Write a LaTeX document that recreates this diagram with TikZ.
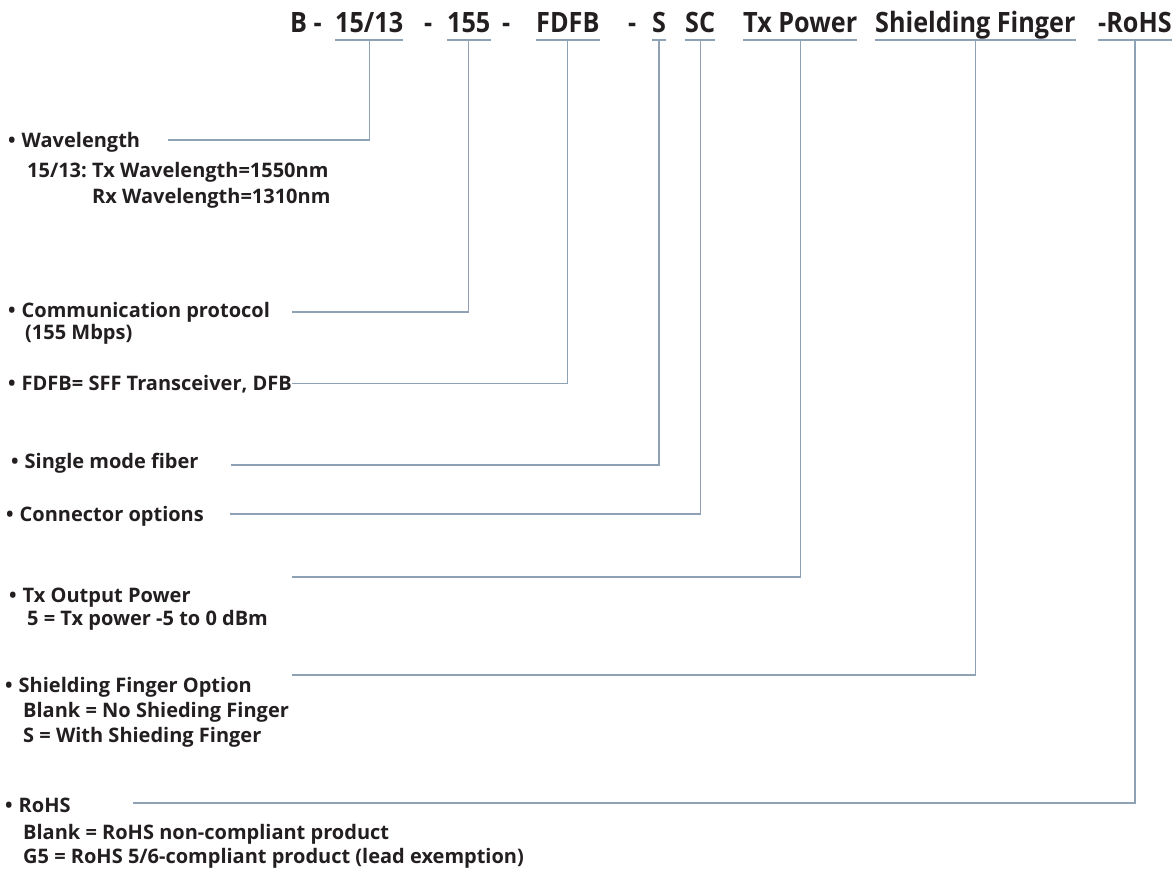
\documentclass[tikz,border=0pt]{standalone}
\usepackage{fontspec}
\setmainfont{Open Sans}
\newfontfamily\codefont{Open Sans}[FakeStretch=0.9]
\newcommand{\bul}{\textbullet\hspace{0.3em}}
\definecolor{leadgray}{HTML}{8FA1B4}
\definecolor{inkdark}{HTML}{231F20}
\begin{document}
	\begin{tikzpicture}[x=1pt,y=1pt,
		code/.style={anchor=base west,inner sep=0pt,text=inkdark,font=\codefont\fontsize{28}{30}\selectfont\bfseries},
		item/.style={anchor=base west,inner sep=0pt,text=inkdark,font=\fontsize{20}{22}\selectfont\bfseries},
		lead/.style={draw=leadgray,line width=1.3pt}]
		\useasboundingbox (0,0) rectangle (1176,-871);
		\coordinate (uline) at (0,-40);
		\node[code] (cB) at (290,-32) {B -};
		\node[code] (cWave) at (335,-32) {15/13};
		\node[code] (dA) at (424,-32) {-};
		\node[code] (cProt) at (447,-32) {155};
		\node[code] (dB) at (502,-32) {-};
		\node[code] (cForm) at (536,-32) {FDFB};
		\node[code] (dC) at (628,-32) {-};
		\node[code] (cFib) at (652,-32) {S};
		\node[code] (cConn) at (685,-32) {SC};
		\node[code] (cPow) at (743,-32) {Tx Power};
		\node[code] (cShld) at (875,-32) {Shielding Finger};
		\node[code] (cRohs) at (1098,-32) {-RoHS};
		\node[item] (iWave) at (8,-147) {\bul Wavelength};
		\node[item] (iWaveA) at (27,-177) {15/13:};
		\node[item] (iWaveTx) at (92,-177) {Tx Wavelength=1550nm};
		\node[item] (iWaveRx) at (92,-203) {Rx Wavelength=1310nm};
		\node[item] (iProt) at (8,-317) {\bul Communication protocol};
		\node[item] (iProtA) at (25,-339) {(155 Mbps)};
		\node[item] (iForm) at (8,-390) {\bul FDFB= SFF Transceiver, DFB};
		\node[item] (iFib) at (11,-468) {\bul Single mode fiber};
		\node[item] (iConn) at (6,-521) {\bul Connector options};
		\node[item] (iPow) at (9,-602) {\bul Tx Output Power};
		\node[item] (iPowA) at (27,-625) {5 = Tx power -5 to 0 dBm};
		\node[item] (iShld) at (5,-692) {\bul Shielding Finger Option};
		\node[item] (iShldA) at (23,-717) {Blank = No Shieding Finger};
		\node[item] (iShldB) at (23,-742) {S = With Shieding Finger};
		\node[item] (iRohs) at (5,-812) {\bul RoHS};
		\node[item] (iRohsA) at (23,-839) {Blank = RoHS non-compliant product};
		\node[item] (iRohsB) at (23,-863) {G5 = RoHS 5/6-compliant product (lead exemption)};
		\coordinate (eWave) at (168,-140);
		\coordinate (eProt) at (292,-312);
		\coordinate (eFib) at (231,-465);
		\coordinate (eConn) at (230,-514);
		\coordinate (ePow) at (292,-577);
		\coordinate (eShld) at (292,-675);
		\coordinate (eRohs) at (133,-803);
		\foreach \c in {cWave,cProt,cForm,cFib,cConn,cPow,cShld,cRohs}
			\draw[lead] (\c.west |- uline) -- (\c.east |- uline);
		\draw[lead] (cWave |- uline) |- (eWave);
		\draw[lead] (cProt |- uline) |- (eProt);
		\draw[lead] (cForm |- uline) |- (iForm.east);
		\draw[lead] (cFib |- uline) |- (eFib);
		\draw[lead] (cConn |- uline) |- (eConn);
		\draw[lead] (cPow |- uline) |- (ePow);
		\draw[lead] (cShld |- uline) |- (eShld);
		\draw[lead] (cRohs |- uline) |- (eRohs);
	\end{tikzpicture}
\end{document}
